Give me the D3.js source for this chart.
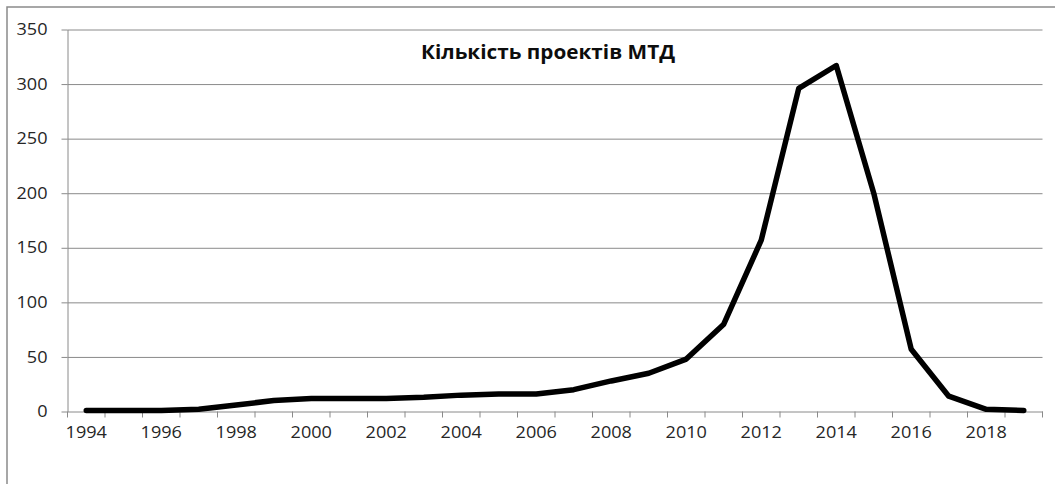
<!DOCTYPE html>
<html lang="uk">
<head>
  <meta charset="UTF-8">
  <title>Кількість проектів МТД</title>
  <script src="https://d3js.org/d3.v7.min.js"></script>
  <style>
    body { margin: 0; background: #fff; font-family: "Open Sans", Arial, sans-serif; }
    svg { display: block; }
    .tick text { fill: #262626; font-size: 16px; font-family: "Open Sans", Arial, sans-serif; }
    .domain, .tick line { stroke: #8a8a8a; }
  </style>
</head>
<body>
  <div id="chart"></div>
  <script>
    const years = [1994, 1995, 1996, 1997, 1998, 1999, 2000, 2001, 2002, 2003, 2004, 2005, 2006,
                   2007, 2008, 2009, 2010, 2011, 2012, 2013, 2014, 2015, 2016, 2017, 2018, 2019];
    const projects = [1, 1, 1, 2, 6, 10, 12, 12, 12, 13, 15, 16, 16,
                      20, 28, 35, 48, 80, 157, 296, 317, 200, 57, 14, 2, 1];
    const yTicks = [0, 50, 100, 150, 200, 250, 300, 350];
    const xLabels = [1994, 1996, 1998, 2000, 2002, 2004, 2006, 2008, 2010, 2012, 2014, 2016, 2018];
    const title = "Кількість проектів МТД";

    const width = 1055, height = 484;
    const plotLeft = 67.5, plotRight = 1042.5, plotTop = 29.5, plotBottom = 411.5;

    const svg = d3.select("#chart").append("svg")
      .attr("width", width)
      .attr("height", height);

    // chart frame
    svg.append("rect")
      .attr("x", 7).attr("y", 7)
      .attr("width", 1100).attr("height", 600)
      .attr("fill", "none")
      .attr("stroke", "#8a8a8a")
      .attr("stroke-width", 1.5);

    const x = d3.scaleBand().domain(years).range([plotLeft, plotRight]).padding(0);
    const y = d3.scaleLinear().domain([0, 350]).range([plotBottom, plotTop]);

    // gridlines
    svg.append("g")
      .attr("transform", `translate(${plotLeft},0)`)
      .call(d3.axisLeft(y).tickValues(yTicks.slice(1)).tickSize(-(plotRight - plotLeft)).tickFormat(""))
      .call(g => g.select(".domain").remove())
      .call(g => g.selectAll("line").attr("stroke", "#8f8f8f"));

    // y axis
    svg.append("g")
      .attr("transform", `translate(${plotLeft},0)`)
      .call(d3.axisLeft(y).tickValues(yTicks).tickSize(6).tickSizeOuter(0).tickPadding(14));

    // x axis: labels at category centres, ticks between categories
    const xAxis = svg.append("g")
      .attr("transform", `translate(0,${plotBottom})`)
      .call(d3.axisBottom(x).tickValues(xLabels).tickSize(0).tickSizeOuter(0).tickPadding(15));

    const bounds = years.map(d => x(d)).concat([x(years[years.length - 1]) + x.bandwidth()]);
    xAxis.selectAll(".bound")
      .data(bounds)
      .join("line")
      .attr("class", "bound")
      .attr("x1", d => d).attr("x2", d => d)
      .attr("y1", 0).attr("y2", 6)
      .attr("stroke", "#8a8a8a");

    // widen labels a little, like the original
    svg.selectAll(".tick text").each(function () {
      const w = this.getComputedTextLength();
      if (w > 0) d3.select(this).attr("textLength", w * 1.13).attr("lengthAdjust", "spacingAndGlyphs");
    });

    // line
    const line = d3.line()
      .x((d, i) => x(years[i]) + x.bandwidth() / 2)
      .y(d => y(d));

    svg.append("path")
      .datum(projects)
      .attr("fill", "none")
      .attr("stroke", "#000")
      .attr("stroke-width", 5.5)
      .attr("stroke-linejoin", "round")
      .attr("stroke-linecap", "round")
      .attr("d", line);

    // title
    svg.append("text")
      .attr("x", 548)
      .attr("y", 59)
      .attr("text-anchor", "middle")
      .attr("font-size", 19)
      .attr("font-weight", "bold")
      .attr("fill", "#0d0d0d")
      .attr("textLength", 254)
      .attr("lengthAdjust", "spacingAndGlyphs")
      .text(title);
  </script>
</body>
</html>
